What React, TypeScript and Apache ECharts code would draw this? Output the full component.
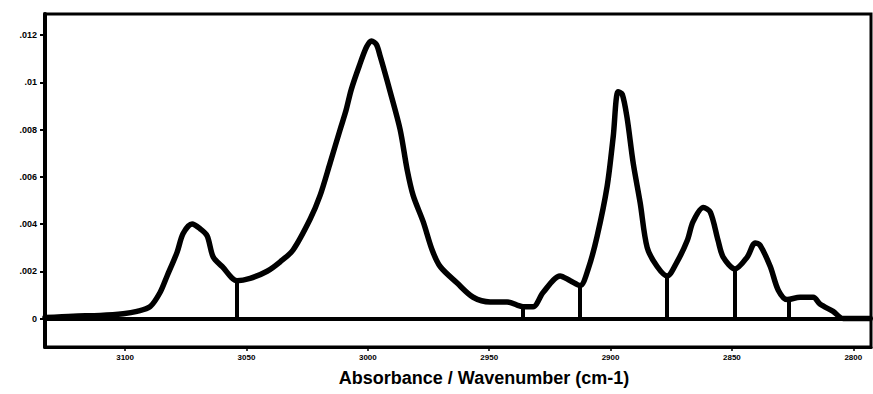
import React, { useEffect, useRef } from "react";
import * as echarts from "echarts";

// Spectrum trace (wavenumber in cm-1, absorbance)
const wavenumbers = [
  3133.0, 3121.4, 3110.3, 3100.8, 3095.1, 3089.7, 3085.6, 3082.7, 3078.6, 3076.1,
  3072.4, 3069.1, 3066.2, 3063.7, 3060.0, 3053.9, 3048.5, 3041.5, 3036.1, 3030.8,
  3023.8, 3019.7, 3015.5, 3011.4, 3009.0, 3006.8, 3003.5, 3000.5, 2998.5, 2996.5,
  2994.9, 2990.8, 2986.7, 2983.8, 2981.3, 2977.2, 2973.5, 2970.2, 2963.2, 2956.6,
  2949.6, 2942.6, 2936.0, 2931.9, 2927.8, 2920.8, 2916.6, 2912.5, 2909.2, 2905.5,
  2901.4, 2898.9, 2896.9, 2895.2, 2893.2, 2890.7, 2887.8, 2884.9, 2880.8, 2876.7,
  2872.6, 2868.4, 2866.0, 2861.8, 2858.9, 2855.7, 2853.6, 2848.7, 2843.7, 2840.4,
  2838.4, 2834.2, 2830.9, 2827.2, 2821.9, 2816.5, 2813.6, 2808.3, 2804.2, 2793.0,
];
const absorbance = [
  0.00004, 0.0001, 0.00013, 0.0002, 0.0003, 0.0005, 0.0011, 0.0018, 0.0028, 0.0036,
  0.0040, 0.0038, 0.0035, 0.0026, 0.0022, 0.0016, 0.0017, 0.0020, 0.0024, 0.0029,
  0.0042, 0.0052, 0.0066, 0.0080, 0.0088, 0.0097, 0.0107, 0.0115, 0.01175, 0.0116,
  0.0111, 0.0096, 0.0080, 0.0063, 0.0052, 0.0041, 0.0029, 0.0022, 0.0015, 0.0009,
  0.0007, 0.0007, 0.0005, 0.0005, 0.0011, 0.0018, 0.0016, 0.0014, 0.0021, 0.0035,
  0.0056, 0.0077, 0.0096, 0.0095, 0.0085, 0.0066, 0.0049, 0.0030, 0.0022, 0.0018,
  0.0024, 0.0033, 0.0041, 0.0047, 0.0045, 0.0033, 0.0026, 0.0021, 0.0026, 0.0032,
  0.0031, 0.0022, 0.0012, 0.0008, 0.0009, 0.0009, 0.0006, 0.0003, 0.0000, 0.0000,
];

// Integration drop lines
const dropWavenumbers = [3053.9, 2936.0, 2912.5, 2876.7, 2848.7, 2826.5];
const dropHeights = [0.0016, 0.0005, 0.0014, 0.0018, 0.0021, 0.0008];

const xTicks = [3100, 3050, 3000, 2950, 2900, 2850, 2800];
const xTickLabels = ["3100", "3050", "3000", "2950", "2900", "2850", "2800"];
const yTicks = [0, 0.002, 0.004, 0.006, 0.008, 0.01, 0.012];
const yTickLabels = ["0", ".002", ".004", ".006", ".008", ".01", ".012"];

const axisTitle = "Absorbance / Wavenumber (cm-1)";

export default function App() {
  const ref = useRef<HTMLDivElement>(null);

  useEffect(() => {
    if (!ref.current) return;
    const chart = echarts.init(ref.current, null, { renderer: "svg" });
    const spectrum = wavenumbers.map((w, i) => [w, absorbance[i]]);
    const drops = dropWavenumbers.map((w, i) => [
      { coord: [w, 0] },
      { coord: [w, dropHeights[i]] },
    ]);
    const font = "'Liberation Sans', Arial, sans-serif";

    chart.setOption({
      animation: false,
      backgroundColor: "#ffffff",
      grid: {
        left: 45,
        top: 14,
        right: 2,
        bottom: 47,
        show: true,
        borderColor: "#000",
        borderWidth: 3,
        backgroundColor: "transparent",
      },
      xAxis: {
        type: "value",
        inverse: true,
        min: 2792.7,
        max: 3133,
        axisLine: { show: true, onZero: false, lineStyle: { color: "#000", width: 3 } },
        splitLine: { show: false },
        axisTick: {
          show: true,
          inside: false,
          length: 4,
          customValues: xTicks,
          lineStyle: { color: "#000", width: 1.5 },
        },
        axisLabel: {
          customValues: xTicks,
          margin: 6,
          fontSize: 8,
          fontWeight: "bold",
          fontFamily: font,
          color: "#000",
          formatter: (v: number) => {
            const i = xTicks.findIndex((t) => Math.abs(t - v) < 0.5);
            return i >= 0 ? xTickLabels[i] : "";
          },
        },
      },
      yAxis: {
        type: "value",
        min: -0.001206,
        max: 0.012889,
        axisLine: { show: true, onZero: false, lineStyle: { color: "#000", width: 4 } },
        splitLine: { show: false },
        axisTick: {
          show: true,
          inside: false,
          length: 5,
          customValues: yTicks,
          lineStyle: { color: "#000", width: 2 },
        },
        axisLabel: {
          customValues: yTicks,
          margin: 8,
          fontSize: 9,
          fontWeight: "bold",
          fontFamily: font,
          color: "#000",
          formatter: (v: number) => {
            const i = yTicks.findIndex((t) => Math.abs(t - v) < 0.0001);
            return i >= 0 ? yTickLabels[i] : "";
          },
        },
      },
      graphic: [
        {
          type: "text",
          x: 484,
          y: 378,
          style: {
            text: axisTitle,
            fill: "#000",
            font: `bold 18px ${font}`,
            textAlign: "center",
            textVerticalAlign: "middle",
          },
        },
      ],
      series: [
        {
          type: "line",
          data: [],
          silent: true,
          markLine: {
            silent: true,
            symbol: "none",
            label: { show: false },
            lineStyle: { color: "#000", width: 4, type: "solid" },
            data: [{ yAxis: 0 }],
          },
        },
        {
          type: "line",
          data: [],
          silent: true,
          markLine: {
            silent: true,
            symbol: "none",
            label: { show: false },
            lineStyle: { color: "#000", width: 4, type: "solid" },
            data: drops,
          },
        },
        {
          type: "line",
          data: spectrum,
          showSymbol: false,
          smooth: 0.3,
          lineStyle: { color: "#000", width: 5.5, join: "round", cap: "round" },
          silent: true,
        },
      ],
    });
    return () => chart.dispose();
  }, []);

  return (
    <div
      ref={ref}
      style={{ position: "fixed", left: 0, top: 0, width: 873, height: 394, background: "#fff" }}
    />
  );
}
